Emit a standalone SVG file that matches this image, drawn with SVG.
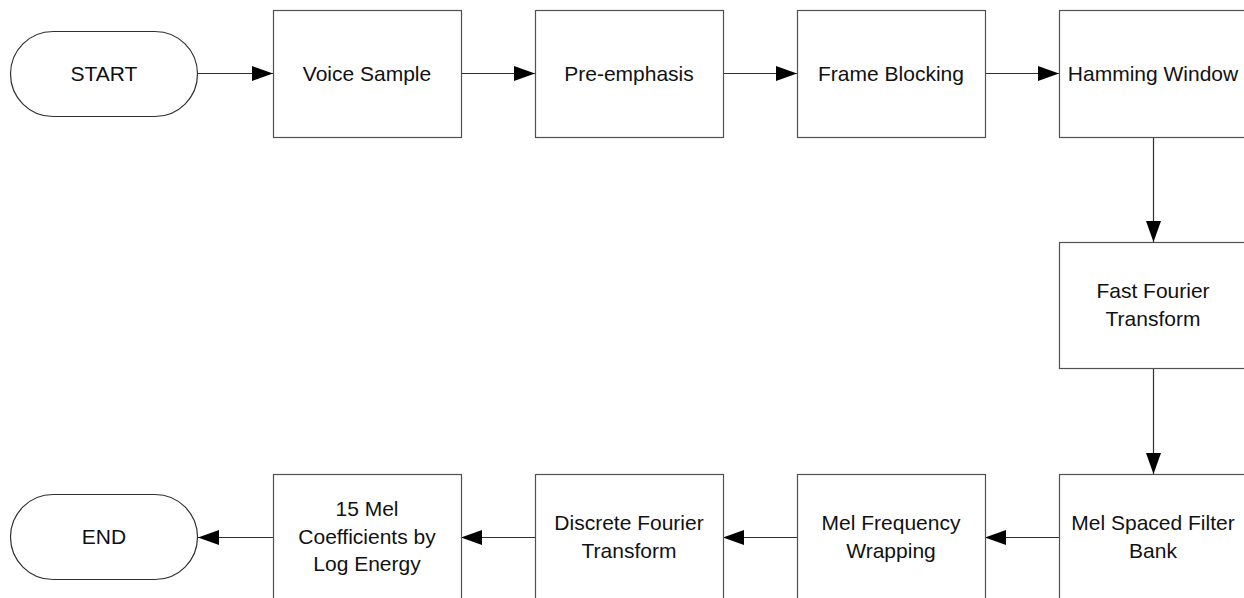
<svg xmlns="http://www.w3.org/2000/svg" width="1244" height="598" viewBox="0 0 1244 598">
<style>
.box{fill:#fff;stroke:#505050;stroke-width:1.2}
.term{fill:#fff;stroke:#303030;stroke-width:1.2}
.t{font-family:"Liberation Sans",Arial,sans-serif;font-size:21px;fill:#111;text-anchor:middle}
.c{stroke:#303030;stroke-width:1.2;fill:none;marker-end:url(#ah)}
</style>
<defs>
<marker id="ah" markerUnits="userSpaceOnUse" markerWidth="22" markerHeight="16" refX="21" refY="7.5" orient="auto">
<path d="M0,0 L21,7.5 L0,15 z" fill="#000"/>
</marker>
</defs>
<g id="connectors">
<line class="c" x1="198" y1="73.5" x2="273" y2="73.5"/>
<line class="c" x1="461" y1="73.5" x2="535" y2="73.5"/>
<line class="c" x1="723" y1="73.5" x2="797" y2="73.5"/>
<line class="c" x1="985" y1="73.5" x2="1059" y2="73.5"/>
<line class="c" x1="1153.5" y1="137" x2="1153.5" y2="242"/>
<line class="c" x1="1153.5" y1="368" x2="1153.5" y2="474"/>
<line class="c" x1="1059" y1="537.5" x2="985" y2="537.5"/>
<line class="c" x1="797" y1="537.5" x2="723" y2="537.5"/>
<line class="c" x1="535" y1="537.5" x2="461" y2="537.5"/>
<line class="c" x1="273" y1="537.5" x2="198" y2="537.5"/>
</g>
<g id="start">
<rect class="term" x="10.5" y="31.5" width="187" height="85" rx="42.5" ry="42.5"/>
<text class="t" x="104" y="81">START</text>
</g>
<g id="voice-sample">
<rect class="box" x="273.5" y="10.5" width="188" height="127"/>
<text class="t" x="367" y="81">Voice Sample</text>
</g>
<g id="pre-emphasis">
<rect class="box" x="535.5" y="10.5" width="188" height="127"/>
<text class="t" x="629" y="81">Pre-emphasis</text>
</g>
<g id="frame-blocking">
<rect class="box" x="797.5" y="10.5" width="188" height="127"/>
<text class="t" x="891" y="81">Frame Blocking</text>
</g>
<g id="hamming-window">
<rect class="box" x="1059.5" y="10.5" width="188" height="127"/>
<text class="t" x="1153" y="81">Hamming Window</text>
</g>
<g id="fft">
<rect class="box" x="1059.5" y="242.5" width="188" height="126"/>
<text class="t" x="1153" y="298">Fast Fourier</text>
<text class="t" x="1153" y="326">Transform</text>
</g>
<g id="mel-spaced-filter-bank">
<rect class="box" x="1059.5" y="474.5" width="188" height="127"/>
<text class="t" x="1153" y="530">Mel Spaced Filter</text>
<text class="t" x="1153" y="558">Bank</text>
</g>
<g id="mel-frequency-wrapping">
<rect class="box" x="797.5" y="474.5" width="188" height="127"/>
<text class="t" x="891" y="530">Mel Frequency</text>
<text class="t" x="891" y="558">Wrapping</text>
</g>
<g id="dft">
<rect class="box" x="535.5" y="474.5" width="188" height="127"/>
<text class="t" x="629" y="530">Discrete Fourier</text>
<text class="t" x="629" y="558">Transform</text>
</g>
<g id="mel-coefficients">
<rect class="box" x="273.5" y="474.5" width="188" height="127"/>
<text class="t" x="367" y="516">15 Mel</text>
<text class="t" x="367" y="543.5">Coefficients by</text>
<text class="t" x="367" y="571">Log Energy</text>
</g>
<g id="end">
<rect class="term" x="10.5" y="494.5" width="187" height="85" rx="42.5" ry="42.5"/>
<text class="t" x="104" y="544">END</text>
</g>
</svg>
